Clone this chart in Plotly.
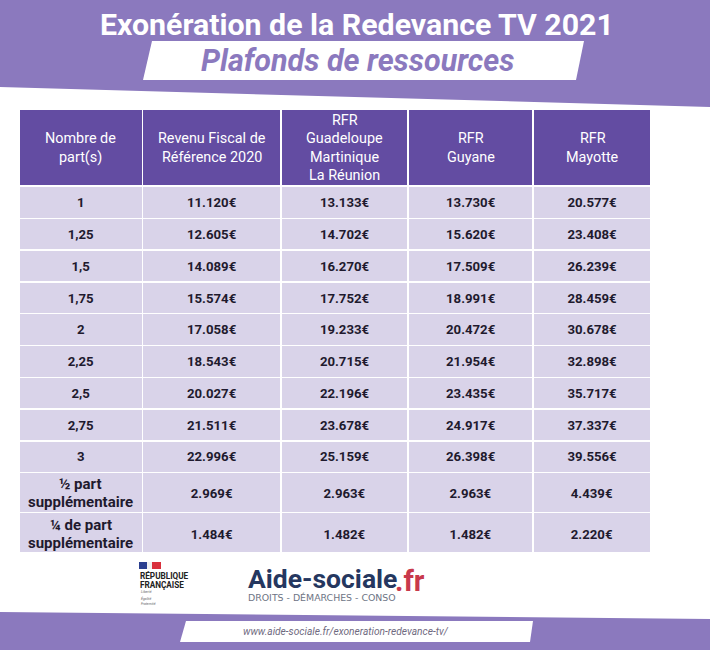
import plotly.graph_objects as go

W, H = 710, 650
title = "Exonération de la Redevance TV 2021"
subtitle = "Plafonds de ressources"
url = "www.aide-sociale.fr/exoneration-redevance-tv/"

headers = ["Nombre de<br>part(s)", "Revenu Fiscal de<br>Référence 2020",
           "RFR<br>Guadeloupe<br>Martinique<br>La Réunion", "RFR<br>Guyane", "RFR<br>Mayotte"]
parts = ["1", "1,25", "1,5", "1,75", "2", "2,25", "2,5", "2,75", "3"]
rfr_2020 = ["11.120€", "12.605€", "14.089€", "15.574€", "17.058€", "18.543€", "20.027€", "21.511€", "22.996€"]
rfr_antilles = ["13.133€", "14.702€", "16.270€", "17.752€", "19.233€", "20.715€", "22.196€", "23.678€", "25.159€"]
rfr_guyane = ["13.730€", "15.620€", "17.509€", "18.991€", "20.472€", "21.954€", "23.435€", "24.917€", "26.398€"]
rfr_mayotte = ["20.577€", "23.408€", "26.239€", "28.459€", "30.678€", "32.898€", "35.717€", "37.337€", "39.556€"]
extra_parts = ["½ part<br>supplémentaire", "¼ de part<br>supplémentaire"]
extra_2020 = ["2.969€", "1.484€"]
extra_antilles = ["2.963€", "1.482€"]
extra_guyane = ["2.963€", "1.482€"]
extra_mayotte = ["4.439€", "2.220€"]

PURPLE = "#8b79be"
HEAD = "#634ca2"
CELL = "#d9d3e9"
DARK = "#1f1a2e"
FONT = "Roboto"
CLEAR = "rgba(0,0,0,0)"

col_x = [19, 142.5, 281, 408.5, 533.5, 651.5]
col_w = [col_x[i + 1] - col_x[i] for i in range(5)]
col_c = [(col_x[i] + col_x[i + 1]) / 2 for i in range(5)]


def dom(x0, x1, y0, y1):
    return dict(x=[x0 / W, x1 / W], y=[1 - y1 / H, 1 - y0 / H])


def poly(pts, color):
    path = "M " + " L ".join(f"{x / W},{1 - y / H}" for x, y in pts) + " Z"
    return dict(type="path", xref="paper", yref="paper", path=path, fillcolor=color,
                line_width=0, layer="below")


def note(x, y, text, size, color, bold=False, italic=False, family=FONT, anchor="center"):
    return dict(xref="paper", yref="paper", x=x / W, y=1 - y / H, text=text, showarrow=False,
                xanchor=anchor, yanchor="middle", borderpad=0,
                font=dict(family=family, size=size, color=color, weight="bold" if bold else "normal",
                          style="italic" if italic else "normal"))


def table(y0, y1, values, height, fill, size=13.2, color=DARK, head=0.5, x0=0, ):
    n = len(values)
    line = dict(color="white", width=1.5) if fill != CLEAR else dict(color=CLEAR, width=0)
    return go.Table(
        domain=dom(col_x[x0], col_x[-1], y0, y1), columnwidth=col_w[x0:],
        header=dict(values=[" "] * n, height=head, fill_color=CLEAR, line_width=0, font_size=1),
        cells=dict(values=values, height=height, fill_color=fill, line=line,
                   font=dict(family=FONT, size=size, color=color, weight="bold"), align="center"),
    )


def blank(n):
    return [[""] * n for _ in range(5)]


fig = go.Figure()
# Coloured bands of the table
fig.add_trace(table(108.5, 187, blank(1), 77, HEAD))
fig.add_trace(table(186, 473, blank(9), 31.8, CELL))
fig.add_trace(table(472, 553, blank(2), 40, CELL))
# Single-line values over the bands
fig.add_trace(table(189, 477, [parts, rfr_2020, rfr_antilles, rfr_guyane, rfr_mayotte], 31.75, CLEAR))
fig.add_trace(table(480, 561, [extra_2020, extra_antilles, extra_guyane, extra_mayotte], 41, CLEAR, x0=1))

shapes = [
    poly([(0, 0), (710, 0), (710, 107), (0, 87)], PURPLE),
    poly([(152, 41), (584, 41), (576, 80), (143, 80)], "white"),
    poly([(0, 612), (710, 619), (710, 650), (0, 650)], PURPLE),
    poly([(186, 621), (533, 621), (530, 642), (180, 642)], "white"),
    poly([(139, 562), (147, 562), (147, 569), (139, 569)], "#2b3f8f"),
    poly([(147, 562), (152, 562), (152, 569), (147, 569)], "#f2f2f2"),
    poly([(152, 562), (161, 562), (161, 569), (152, 569)], "#d9303c"),
]

annotations = [
    note(357, 25, title, 30.3, "white", bold=True),
    note(357, 61, subtitle, 30.5, PURPLE, bold=True, italic=True),
    note(346, 631, url, 10.2, "#6f6a80", italic=True),
    note(139, 575.5, "RÉPUBLIQUE", 8.2, "#222222", bold=True, anchor="left"),
    note(139, 585, "FRANÇAISE", 8.2, "#222222", bold=True, anchor="left"),
    note(140, 592, "Liberté", 3.5, "#666666", italic=True, anchor="left"),
    note(140, 598, "Égalité", 3.5, "#666666", italic=True, anchor="left"),
    note(140, 604, "Fraternité", 3.5, "#666666", italic=True, anchor="left"),
    note(247, 578, "Aide-sociale", 26.5, "#25375f", bold=True, anchor="left"),
    note(394, 581, ".fr", 29, "#c8394c", bold=True, anchor="left"),
    note(247, 597, "DROITS - DÉMARCHES - CONSO", 9.4, "#6d7484", family="DejaVu Sans", anchor="left"),
]

# Multi-line cells: one text per line so that each line stays centred in its cell
for cx, h in zip(col_c, headers):
    lines = h.split("<br>")
    y0 = 148 - (len(lines) - 1) * 18.3 / 2
    for i, ln in enumerate(lines):
        annotations.append(note(cx, y0 + i * 18.3, ln, 14.4, "white"))
for yc, label in zip([493, 534], extra_parts):
    for i, ln in enumerate(label.split("<br>")):
        annotations.append(note(col_c[0], yc - 9 + i * 18, ln, 15, DARK, bold=True))

fig.update_layout(width=W, height=H, margin=dict(l=0, r=0, t=0, b=0), autosize=False,
                  paper_bgcolor="white", plot_bgcolor="white", showlegend=False,
                  shapes=shapes, annotations=annotations)
fig.write_html("out.html", config=dict(displayModeBar=False),
               post_script="document.body.style.margin='0';document.body.style.overflow='hidden';")
